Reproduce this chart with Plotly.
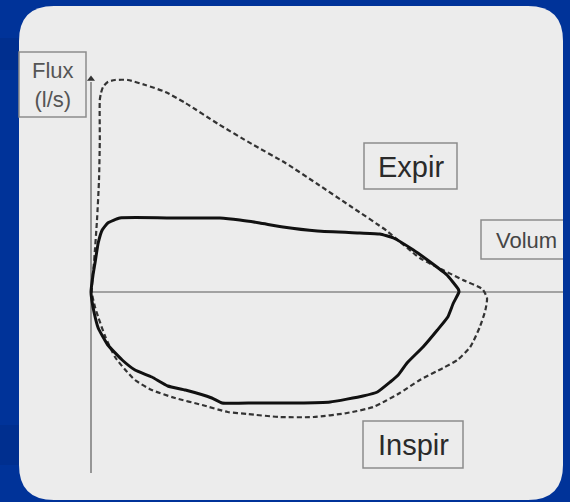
import plotly.graph_objects as go

# ---------------- data (volume in L, flow in L/s) ----------------
solid_volume = [0, 0.025, 0.05, 0.09, 0.14, 0.21, 0.36, 1.08, 1.61, 1.86, 2.11, 2.4, 2.83, 3.36, 3.61,
                3.78, 4.03, 4.24, 4.45, 4.59, 4.6, 4.53, 4.46, 4.33, 4.15, 3.95, 3.84, 3.74, 3.58, 3.4,
                2.99, 2.58, 2.05, 1.64, 1.51, 1.18, 0.96, 0.76, 0.55, 0.39, 0.21, 0.09, 0.04, 0.01, 0]
solid_flux = [0, 0.85, 1.45, 2.45, 3.1, 3.45, 3.7, 3.7, 3.7, 3.6, 3.45, 3.25, 3.05, 2.95, 2.9,
              2.7, 2.1, 1.5, 0.85, 0.15, 0, -0.55, -1.25, -1.9, -2.75, -3.55, -4.15, -4.5, -5.0, -5.2,
              -5.5, -5.55, -5.55, -5.55, -5.3, -4.9, -4.7, -4.25, -3.9, -3.4, -2.65, -1.8, -1.05, -0.4, 0]

dashed_volume = [0.01, 0.04, 0.075, 0.1, 0.11, 0.11, 0.125, 0.15, 0.21, 0.3, 0.46, 0.68, 0.93, 1.18,
                 1.59, 2.01, 2.43, 2.83, 3.24, 3.7, 4.11, 4.4, 4.65, 4.89, 4.95, 4.93, 4.86, 4.74, 4.58,
                 4.4, 4.11, 3.86, 3.68, 3.53, 3.2, 2.78, 2.36, 1.95, 1.71, 1.39, 1.05, 0.76, 0.55, 0.43,
                 0.3, 0.18, 0.09, 0.05, 0.01]
dashed_flux = [0, 1.6, 3.6, 5.6, 7.6, 9.6, 9.95, 10.25, 10.5, 10.6, 10.6, 10.35, 10.0, 9.45,
               8.4, 7.4, 6.45, 5.4, 4.3, 3.05, 1.7, 1.1, 0.6, 0.15, -0.3, -0.9, -1.75, -2.75, -3.4,
               -3.8, -4.4, -5.05, -5.45, -5.75, -6.05, -6.25, -6.25, -6.1, -6.0, -5.65, -5.3, -4.9, -4.4, -3.9,
               -3.25, -2.25, -1.25, -0.75, 0]

axis_volume_end = 5.9
axis_flux_min, axis_flux_max = -9.05, 10.8

label_flux = "Flux<br>(l/s)"
label_volume = "Volum"
label_expir = "Expir"
label_inspir = "Inspir"

# ---------------- layout constants ----------------
W, H = 570, 502
PX_PER_L, PX_PER_LS = 80, 20
ORIGIN_X, ORIGIN_Y = 91, 292
x_range = [-ORIGIN_X / PX_PER_L, (W - ORIGIN_X) / PX_PER_L]
y_range = [-(H - ORIGIN_Y) / PX_PER_LS, ORIGIN_Y / PX_PER_LS]

BLUE = "#003399"
BLUE_DARK = "#002f8f"
PANEL = "#ececec"
BOX_LINE = "#8c8c8c"
FONT = "Liberation Sans, Arial, sans-serif"


def px(x):
    return x / W


def py(y):
    return 1 - y / H


def rounded_rect(x0, y0, x1, y1, r):
    pts = [
        ("M", [(x0 + r, y0)]),
        ("L", [(x1 - r, y0)]),
        ("Q", [(x1, y0), (x1, y0 + r)]),
        ("L", [(x1, y1 - r)]),
        ("Q", [(x1, y1), (x1 - r, y1)]),
        ("L", [(x0 + r, y1)]),
        ("Q", [(x0, y1), (x0, y1 - r)]),
        ("L", [(x0, y0 + r)]),
        ("Q", [(x0, y0), (x0 + r, y0)]),
    ]
    s = ""
    for cmd, ps in pts:
        s += cmd + " " + " ".join(f"{px(a):.5f},{py(b):.5f}" for a, b in ps) + " "
    return s + "Z"


fig = go.Figure()

# axes
fig.add_trace(go.Scatter(x=[0, 0], y=[axis_flux_min, axis_flux_max - 0.3], mode="lines",
                         line=dict(color="#7a7a7a", width=1.5), hoverinfo="skip", showlegend=False))
fig.add_trace(go.Scatter(x=[0, axis_volume_end], y=[0, 0], mode="lines",
                         line=dict(color="#8a8a8a", width=1.5), hoverinfo="skip", showlegend=False))
fig.add_trace(go.Scatter(x=[0], y=[axis_flux_max - 0.15], mode="markers",
                         marker=dict(symbol="triangle-up", size=7, color="#333333"),
                         hoverinfo="skip", showlegend=False))

# loops
fig.add_trace(go.Scatter(x=dashed_volume, y=dashed_flux, mode="lines",
                         line=dict(color="#333333", width=2.2, dash="5px,3px", shape="spline", smoothing=0.6),
                         hoverinfo="skip", showlegend=False))
fig.add_trace(go.Scatter(x=solid_volume, y=solid_flux, mode="lines",
                         line=dict(color="#111111", width=3, shape="spline", smoothing=0.4),
                         hoverinfo="skip", showlegend=False))

shapes = [
    dict(type="rect", xref="paper", yref="paper", x0=0, x1=1, y0=0, y1=1,
         fillcolor=BLUE, line=dict(width=0), layer="below"),
    dict(type="rect", xref="paper", yref="paper", x0=0, x1=px(20), y0=py(70), y1=py(38),
         fillcolor=BLUE_DARK, line=dict(width=0), layer="below"),
    dict(type="rect", xref="paper", yref="paper", x0=0, x1=px(20), y0=py(465), y1=py(425),
         fillcolor=BLUE_DARK, line=dict(width=0), layer="below"),
    dict(type="path", xref="paper", yref="paper", path=rounded_rect(19, 6, 563, 500, 35),
         fillcolor=PANEL, line=dict(width=0), layer="below"),
    # label boxes
    dict(type="rect", xref="paper", yref="paper", x0=px(19), x1=px(86), y0=py(117), y1=py(52),
         fillcolor=PANEL, line=dict(color=BOX_LINE, width=1.5), layer="below"),
    dict(type="rect", xref="paper", yref="paper", x0=px(364), x1=px(457), y0=py(189), y1=py(143),
         fillcolor=PANEL, line=dict(color=BOX_LINE, width=1.5), layer="below"),
    dict(type="rect", xref="paper", yref="paper", x0=px(363), x1=px(463), y0=py(468), y1=py(421),
         fillcolor=PANEL, line=dict(color=BOX_LINE, width=1.5), layer="below"),
    dict(type="path", xref="paper", yref="paper",
         path=f"M {px(563)},{py(220)} L {px(481)},{py(220)} L {px(481)},{py(259)} L {px(563)},{py(259)}",
         line=dict(color=BOX_LINE, width=1.5), layer="below"),
]

annotations = [
    dict(xref="paper", yref="paper", x=px(52.5), y=py(85), text=label_flux, showarrow=False,
         xanchor="center", yanchor="middle", font=dict(family=FONT, size=22, color="#555555")),
    dict(xref="paper", yref="paper", x=px(410.5), y=py(167), text=label_expir, showarrow=False,
         xanchor="center", yanchor="middle", font=dict(family=FONT, size=29, color="#2a2a2a")),
    dict(xref="paper", yref="paper", x=px(413), y=py(445), text=label_inspir, showarrow=False,
         xanchor="center", yanchor="middle", font=dict(family=FONT, size=29, color="#2a2a2a")),
    dict(xref="paper", yref="paper", x=px(526.5), y=py(240), text=label_volume, showarrow=False,
         xanchor="center", yanchor="middle", font=dict(family=FONT, size=22, color="#454545")),
]

fig.update_layout(
    width=W, height=H, autosize=False,
    margin=dict(l=0, r=0, t=0, b=0, pad=0),
    paper_bgcolor=BLUE, plot_bgcolor="rgba(0,0,0,0)",
    xaxis=dict(range=x_range, visible=False, fixedrange=True),
    yaxis=dict(range=y_range, visible=False, fixedrange=True),
    shapes=shapes, annotations=annotations, showlegend=False,
)

fig.write_html("out.html", config={"displayModeBar": False},
               post_script="document.body.style.margin='0';document.body.style.overflow='hidden';")
